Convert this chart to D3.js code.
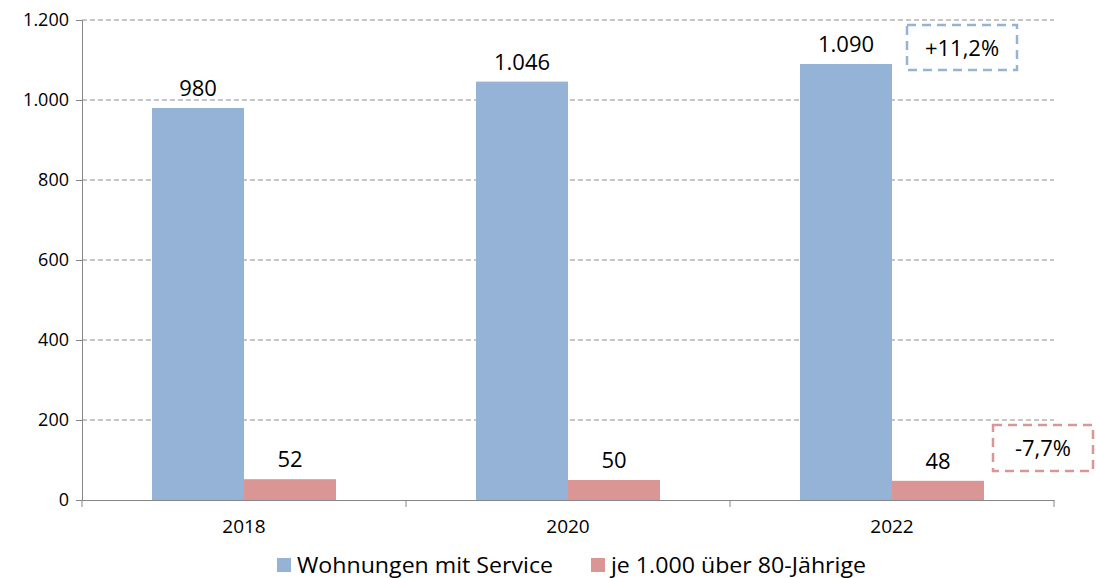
<!DOCTYPE html>
<html>
<head>
<meta charset="utf-8">
<script src="https://cdn.jsdelivr.net/npm/d3@7"></script>
<style>
  body { margin: 0; background: #fff; }
  svg { font-family: "Open Sans", "Liberation Sans", sans-serif; }
</style>
</head>
<body>
<svg id="chart"></svg>
<script>
const years = ["2018", "2020", "2022"];
const wohnungen = [980, 1046, 1090];
const jeTausend = [52, 50, 48];
const seriesNames = ["Wohnungen mit Service", "je 1.000 über 80-Jährige"];
const yTicks = [0, 200, 400, 600, 800, 1000, 1200];
const changeLabels = ["+11,2%", "-7,7%"];

const colors = ["#95b3d7", "#d99694"];
const fmt = d3.format(",");
const deFmt = v => fmt(v).replace(/,/g, ".");
const font = '"Open Sans", "Liberation Sans", sans-serif';

const svgWidth = 1096, svgHeight = 578;
const margin = { top: 20, right: 42, bottom: 78, left: 82 };
const width = svgWidth - margin.left - margin.right;
const height = svgHeight - margin.top - margin.bottom;

const svg = d3.select("#chart")
  .attr("width", svgWidth)
  .attr("height", svgHeight);

const g = svg.append("g")
  .attr("transform", `translate(${margin.left},${margin.top})`);

const x = d3.scaleBand().domain(years).range([0, width]).paddingInner(0).paddingOuter(0);
const x1 = d3.scaleBand().domain([0, 1]).range([70, x.bandwidth() - 70]);
const y = d3.scaleLinear().domain([0, 1200]).range([height, 0]);

// grid
g.selectAll(".grid")
  .data(yTicks.filter(d => d > 0))
  .enter().append("line")
  .attr("x1", 0).attr("x2", width)
  .attr("y1", d => y(d)).attr("y2", d => y(d))
  .attr("stroke", "#8c8c8c")
  .attr("stroke-dasharray", "5,3");

// y axis
const yAxis = g.append("g")
  .call(d3.axisLeft(y).tickValues(yTicks).tickFormat(deFmt).tickSize(6));
yAxis.attr("font-family", font).attr("font-size", 18);
yAxis.select(".domain").attr("stroke", "#868686");
yAxis.selectAll(".tick line").attr("stroke", "#868686");
yAxis.selectAll("text").attr("fill", "#000").attr("dx", -4);

// bars
const groups = [wohnungen, jeTausend];
groups.forEach((vals, s) => {
  g.selectAll(".bar" + s)
    .data(vals)
    .enter().append("rect")
    .attr("x", (d, i) => x(years[i]) + x1(s))
    .attr("y", d => y(d))
    .attr("width", x1.bandwidth())
    .attr("height", d => height - y(d))
    .attr("fill", colors[s]);

  g.selectAll(".lbl" + s)
    .data(vals)
    .enter().append("text")
    .attr("x", (d, i) => x(years[i]) + x1(s) + x1.bandwidth() / 2)
    .attr("y", d => y(d) - 12)
    .attr("text-anchor", "middle")
    .attr("font-size", 22)
    .attr("fill", "#000")
    .text(d => deFmt(d));
});

// x axis
const xAxis = g.append("g")
  .attr("transform", `translate(0,${height})`)
  .call(d3.axisBottom(x).tickSize(0).tickPadding(20));
xAxis.attr("font-family", font).attr("font-size", 19);
xAxis.select(".domain").attr("stroke", "#868686");
xAxis.selectAll("text").attr("fill", "#000");
g.selectAll(".xt")
  .data(d3.range(years.length + 1))
  .enter().append("line")
  .attr("x1", i => i * x.bandwidth()).attr("x2", i => i * x.bandwidth())
  .attr("y1", height).attr("y2", height + 7)
  .attr("stroke", "#868686");

// change boxes
const boxes = [
  { x: 907, y: 25, w: 110, h: 45, color: colors[0], text: changeLabels[0] },
  { x: 993, y: 425, w: 100, h: 46, color: colors[1], text: changeLabels[1] }
];
boxes.forEach(b => {
  svg.append("rect")
    .attr("x", b.x).attr("y", b.y).attr("width", b.w).attr("height", b.h)
    .attr("fill", "none").attr("stroke", b.color).attr("stroke-width", 2.5)
    .attr("stroke-dasharray", "9,6");
  svg.append("text")
    .attr("x", b.x + b.w / 2).attr("y", b.y + b.h / 2 + 8)
    .attr("text-anchor", "middle").attr("font-size", 22).attr("fill", "#000")
    .text(b.text);
});

// legend
const legendX = [277, 591];
const legendLen = [256, 255];
seriesNames.forEach((name, i) => {
  svg.append("rect")
    .attr("x", legendX[i]).attr("y", 558).attr("width", 14).attr("height", 14)
    .attr("fill", colors[i]);
  svg.append("text")
    .attr("x", legendX[i] + 20).attr("y", 573)
    .attr("font-size", 21).attr("fill", "#000")
    .attr("textLength", legendLen[i])
    .attr("lengthAdjust", "spacingAndGlyphs")
    .text(name);
});
</script>
</body>
</html>
